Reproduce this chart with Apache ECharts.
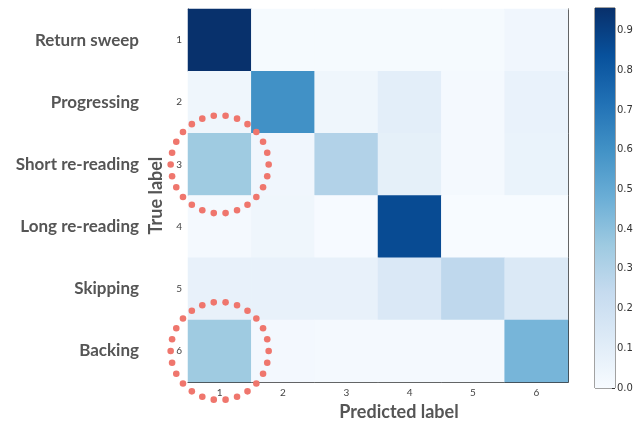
<!DOCTYPE html>
<html><head><meta charset="utf-8">
<script src="https://cdn.jsdelivr.net/npm/echarts@6/dist/echarts.min.js"></script>
<style>html,body{margin:0;padding:0;background:#fff}#c{width:644px;height:426px}</style>
</head><body><div id="c"></div><script>
const predictedLabels = ['1','2','3','4','5','6'];
const trueLabels = ['1','2','3','4','5','6'];
const classNames = ['Return sweep','Progressing','Short re-reading','Long re-reading','Skipping','Backing'];
const rowReturnSweep  = [0.955, 0.010, 0.010, 0.010, 0.010, 0.035];
const rowProgressing  = [0.038, 0.600, 0.038, 0.095, 0.012, 0.067];
const rowShortReread  = [0.355, 0.035, 0.300, 0.085, 0.012, 0.060];
const rowLongReread   = [0.012, 0.038, 0.006, 0.860, 0.000, 0.000];
const rowSkipping     = [0.072, 0.072, 0.072, 0.140, 0.260, 0.135];
const rowBacking      = [0.355, 0.020, 0.015, 0.015, 0.012, 0.450];
const rows = [rowReturnSweep,rowProgressing,rowShortReread,rowLongReread,rowSkipping,rowBacking];
const colorbarMax = 0.957;
const blues = ['#f7fbff','#deebf7','#c6dbef','#9ecae1','#6baed6','#4292c6','#2171b5','#08519c','#08306b'];
const highlighted = [['1','3'],['1','6']];

const data = [];
rows.forEach((r, i) => r.forEach((v, j) => data.push([predictedLabels[j], trueLabels[i], v])));

const chart = echarts.init(document.getElementById('c'));
const tickStyle = {show:true, inside:true, alignWithLabel:true, length:4, lineStyle:{color:'#333'}};
chart.setOption({
  animation:false,
  grid:[
    {left:188, right:76, top:9, bottom:38},
    {left:595, width:20, top:8, bottom:38, show:true, borderColor:'#444', borderWidth:1, backgroundColor:'transparent'}
  ],
  visualMap:{show:false, seriesIndex:0, min:0, max:colorbarMax, inRange:{color:blues}},
  xAxis:[
    {gridIndex:0, type:'category', data:predictedLabels, position:'bottom',
     axisLine:{lineStyle:{color:'#333'}}, axisTick:tickStyle, splitLine:{show:false},
     axisLabel:{fontSize:10, color:'#444', margin:6, fontFamily:'Lato'},
     name:'Predicted label', nameLocation:'middle', nameGap:17,
     nameTextStyle:{fontSize:18, fontFamily:'Lato', fontWeight:'bold', color:'#555', padding:[0,0,0,42]}},
    {gridIndex:0, type:'category', data:predictedLabels, position:'top',
     axisLine:{lineStyle:{color:'#ccc'}}, axisTick:tickStyle, axisLabel:{show:false}},
    {gridIndex:1, type:'category', data:['c'], show:false}
  ],
  yAxis:[
    {gridIndex:0, type:'category', data:trueLabels, inverse:true, position:'left',
     axisLine:{lineStyle:{color:'#333'}}, axisTick:tickStyle, splitLine:{show:false},
     axisLabel:{fontSize:10, color:'#444', margin:6, fontFamily:'Lato'},
     name:'True label', nameLocation:'middle', nameGap:17, nameRotate:90,
     nameTextStyle:{fontSize:18, fontFamily:'Lato', fontWeight:'bold', color:'#555'}},
    {gridIndex:0, type:'category', data:classNames, inverse:true, position:'left', offset:41,
     axisLine:{show:false}, axisTick:{show:false},
     axisLabel:{fontSize:17, fontFamily:'Lato', fontWeight:'bold', color:'#555', margin:8}},
    {gridIndex:0, type:'category', data:trueLabels, inverse:true, position:'right',
     axisLine:{lineStyle:{color:'#333'}}, axisTick:tickStyle, axisLabel:{show:false}},
    {gridIndex:1, type:'value', min:0, max:colorbarMax, interval:0.1, position:'right',
     axisLine:{show:false}, splitLine:{show:false},
     axisTick:{show:true, inside:true, length:3, lineStyle:{color:'#333'}},
     axisLabel:{fontSize:10, fontFamily:'DejaVu Sans', color:'#333', margin:2,
       formatter:v => v > 0.95 ? '' : v.toFixed(1)}}
  ],
  series:[
    {type:'heatmap', xAxisIndex:0, yAxisIndex:0, data:data, itemStyle:{borderWidth:0}, silent:true},
    {type:'bar', xAxisIndex:2, yAxisIndex:3, data:[colorbarMax], barWidth:'100%', silent:true,
     itemStyle:{color:{type:'linear', x:0, y:1, x2:0, y2:0,
       colorStops:blues.map((c,i)=>({offset:i/(blues.length-1), color:c}))}}}
  ]
});

const dots = [];
const nDots = 26, radius = 49;
highlighted.forEach(cell => {
  const p = chart.convertToPixel({seriesIndex:0}, cell);
  for (let k = 0; k < nDots; k++) {
    const a = Math.PI + 2*Math.PI*k/nDots;
    dots.push({type:'circle', z:100, silent:true,
      shape:{cx:p[0] + radius*Math.cos(a), cy:p[1] + radius*Math.sin(a), r:3.3},
      style:{fill:'#ef766d'}});
  }
});
chart.setOption({graphic:dots});
</script></body></html>
